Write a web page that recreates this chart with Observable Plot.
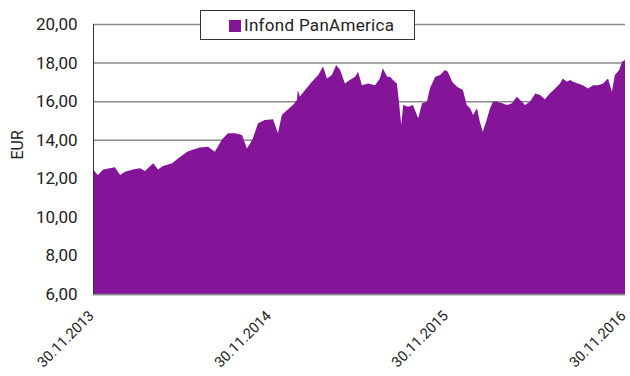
<!DOCTYPE html>
<html><head><meta charset="utf-8">
<script src="https://cdn.jsdelivr.net/npm/d3@7"></script>
<script src="https://cdn.jsdelivr.net/npm/@observablehq/plot@0.6"></script>
<style>
body{margin:0;background:#fff;}
#wrap{position:relative;width:630px;height:376px;font-family:Roboto,sans-serif;}
#legend{position:absolute;left:200px;top:10px;width:213px;height:28px;border:1px solid #333;background:#fff;box-sizing:content-box;}
#legend .sw{position:absolute;left:28px;top:9px;width:12px;height:12px;background:#851598;}
#legend .lb{position:absolute;left:43px;top:4px;font-size:17px;color:#222;line-height:20px;white-space:nowrap;letter-spacing:0.3px;}
</style></head>
<body><div id="wrap"></div>
<script>
const seriesName = "Infond PanAmerica";
const yLabel = "EUR";
const dates = [
"2013-11-30","2013-12-10","2013-12-21","2014-01-14","2014-01-25","2014-02-04","2014-02-20","2014-03-07","2014-03-17","2014-04-03",
"2014-04-13","2014-04-23","2014-05-12","2014-05-24","2014-06-12","2014-06-22","2014-07-08","2014-07-25","2014-08-08","2014-08-23",
"2014-09-04","2014-09-19","2014-10-03","2014-10-13","2014-10-24","2014-11-05","2014-11-19","2014-12-06","2014-12-16","2014-12-24",
"2015-01-04","2015-01-16","2015-01-24","2015-01-26","2015-01-30","2015-02-10","2015-02-24","2015-03-09","2015-03-19","2015-03-27",
"2015-04-06","2015-04-15","2015-04-23","2015-05-03","2015-05-13","2015-05-24","2015-05-30","2015-06-07","2015-06-20","2015-07-04",
"2015-07-14","2015-07-20","2015-07-29","2015-08-04","2015-08-10","2015-08-18","2015-08-22","2015-08-27","2015-08-31","2015-09-10",
"2015-09-20","2015-10-01","2015-10-09","2015-10-19","2015-10-25","2015-11-05","2015-11-15","2015-11-25","2015-12-01","2015-12-10",
"2015-12-20","2016-01-01","2016-01-09","2016-01-16","2016-01-22","2016-01-30","2016-02-05","2016-02-11","2016-02-20","2016-02-26",
"2016-03-03","2016-03-11","2016-03-22","2016-04-01","2016-04-11","2016-04-21","2016-04-28","2016-05-08","2016-05-18","2016-05-29",
"2016-06-08","2016-06-18","2016-06-28","2016-07-09","2016-07-19","2016-07-25","2016-08-02","2016-08-09","2016-08-15","2016-08-25",
"2016-09-04","2016-09-15","2016-09-25","2016-10-05","2016-10-16","2016-10-26","2016-11-03","2016-11-09","2016-11-18","2016-11-24",
"2016-11-30"
];
const values = [
12.45,12.17,12.46,12.57,12.17,12.34,12.46,12.52,12.38,12.78,
12.45,12.64,12.78,13.03,13.38,13.47,13.59,13.64,13.38,14.02,
14.33,14.33,14.24,13.55,13.98,14.85,15.02,15.06,14.33,15.28,
15.54,15.80,16.05,16.58,16.24,16.58,17.00,17.35,17.79,17.18,
17.35,17.87,17.61,16.92,17.09,17.26,17.52,16.83,16.92,16.83,
17.18,17.70,17.26,17.26,17.09,16.92,16.06,14.76,15.80,15.71,
15.80,15.11,15.89,15.97,16.66,17.26,17.35,17.61,17.52,17.00,
16.75,16.58,15.80,15.63,15.28,15.63,14.93,14.41,15.11,15.63,
15.97,15.97,15.89,15.80,15.89,16.23,16.06,15.80,15.97,16.40,
16.32,16.10,16.40,16.66,16.92,17.18,17.00,17.09,17.00,16.92,
16.83,16.66,16.83,16.83,16.92,17.18,16.49,17.35,17.61,18.04,
18.13
];
const yTicks = [6,8,10,12,14,16,18,20];
const xTicks = ["2013-11-30","2014-11-30","2015-11-30","2016-11-30"];

const data = dates.map((d,i)=>({date:new Date(d), value:values[i]}));
const xTickDates = xTicks.map(d=>new Date(d));
const fill = "#851598";

const plot = Plot.plot({
  width:630, height:376,
  marginLeft:93, marginRight:5, marginTop:24, marginBottom:82,
  style:{fontFamily:"Roboto, sans-serif", fontSize:"16px", color:"#222", background:"transparent"},
  x:{type:"utc", domain:[xTickDates[0], xTickDates[xTickDates.length-1]]},
  y:{domain:[6,20]},
  marks:[
    Plot.ruleY(yTicks,{stroke:"#8a8a8a", strokeWidth:1.5}),
    Plot.areaY(data,{x:"date", y1:6, y2:"value", fill:fill}),
    Plot.ruleY([6],{stroke:"#8a8a8a", strokeWidth:1.5}),
    Plot.ruleX([xTickDates[0]],{y1:6, y2:20, stroke:"#333", strokeWidth:1}),
    Plot.axisY({ticks:yTicks, tickFormat:d=>d.toFixed(2).replace(".",","), tickSize:0, tickPadding:16, label:null, fontSize:17}),
    Plot.axisX({ticks:xTickDates, tickFormat:d3.utcFormat("%d.%m.%Y"), tickRotate:-45, tickSize:0, tickPadding:19, dx:-2, label:null, fontSize:14.5}),
    Plot.text([yLabel],{frameAnchor:"left", dx:-76, rotate:-90, fontSize:16, fill:"#222"})
  ]
});
const wrap = document.getElementById("wrap");
wrap.appendChild(plot);
const lg = document.createElement("div");
lg.id = "legend";
lg.innerHTML = '<div class="sw"></div><div class="lb"></div>';
lg.querySelector(".lb").textContent = seriesName;
wrap.appendChild(lg);
</script>
</body></html>
